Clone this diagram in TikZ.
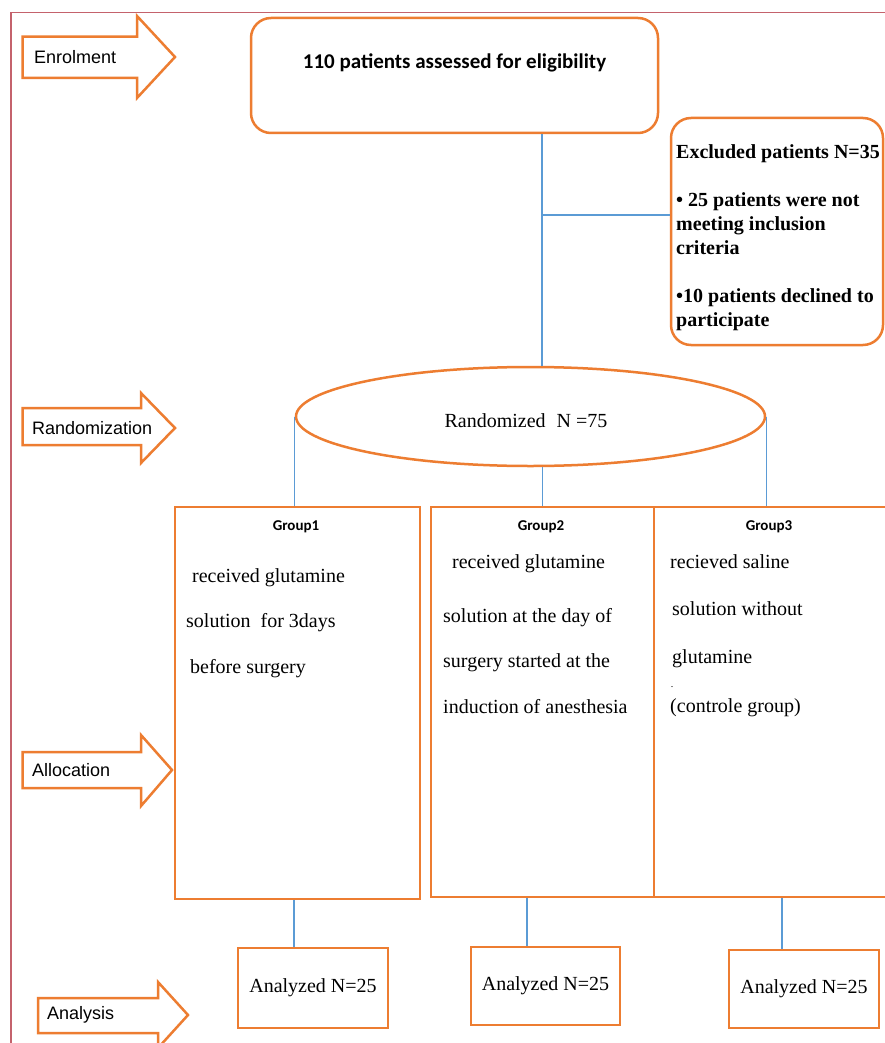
\documentclass[tikz,border=0pt]{standalone}
\usepackage{fontspec}
\setmainfont{Liberation Serif}
\newfontfamily\stagefont{Liberation Sans}
\newfontfamily\calfont{Carlito}
\usepackage{tikz}
\usetikzlibrary{shapes.geometric}
\definecolor{boxorange}{HTML}{ED7D31}
\definecolor{linkblue}{HTML}{5B9BD5}
\definecolor{framered}{RGB}{196,98,108}
\tikzset{
    plainbox/.style={draw=boxorange,line width=2.5pt,inner sep=0pt},
    roundbox/.style={plainbox,rounded corners=20pt},
    stagearrow/.style={draw=boxorange,line width=2.5pt,fill=white,line join=miter},
    stagelabel/.style={font=\stagefont\fontsize{18}{20}\selectfont,anchor=west,inner sep=0pt},
    link/.style={draw=linkblue,line width=1.3pt},
    bodytext/.style={font=\fontsize{20}{45.5}\selectfont,align=left,anchor=base west,inner sep=0pt},
    grouphead/.style={font=\calfont\bfseries\fontsize{15}{17}\selectfont,inner sep=0pt}
}

\begin{document}
\begin{tikzpicture}[x=1pt,y=-1pt]
            \useasboundingbox (0,0) rectangle (884,1043);
            \fill[white] (0,0) rectangle (884,1043);
            \draw[framered,line width=1.5pt] (11,1060) -- (11,12.5) -- (900,12.5);
            \draw[stagearrow] (22.7,36.7) -- (137,36.7) -- (137,16) -- (175,57) -- (137,98) -- (137,78) -- (22.7,78) -- cycle;
            \draw[stagearrow] (22.5,408) -- (141,408) -- (141,393) -- (175,428) -- (141,463) -- (141,445) -- (22.5,445) -- cycle;
            \draw[stagearrow] (22.5,752) -- (141,752) -- (141,735) -- (172,770) -- (141,806) -- (141,788) -- (22.5,788) -- cycle;
            \draw[stagearrow] (38,998) -- (158,998) -- (158,982) -- (188,1015) -- (158,1048) -- (158,1033) -- (38,1033) -- cycle;
            \node[stagelabel] (enrolment) at (34,57) {Enrolment};
            \node[stagelabel] (randomization) at (32,428) {Randomization};
            \node[stagelabel] (allocation) at (32,770) {Allocation};
            \node[stagelabel] (analysis) at (47,1015) {Analysis};
            \node[roundbox,minimum width=407pt,minimum height=115pt] (enrol) at (454.5,75.5) {};
            \node[font=\calfont\bfseries\fontsize{21}{23}\selectfont] (enroltext) at (454.5,63) {110 patients assessed for eligibility};
            \node[roundbox,minimum width=212pt,minimum height=227pt] (excl) at (777,231.5) {};
            \node[font=\bfseries\fontsize{20}{24}\selectfont,align=left,anchor=base west,inner sep=0pt] (excltext) at (676,326)
                {Excluded patients N=35\\[24pt] \textbullet\ 25 patients were not\\ meeting inclusion\\ criteria\\[24pt] \textbullet 10 patients declined to\\ participate};
            \node[ellipse,plainbox,minimum width=469pt,minimum height=99pt] (rand) at (530.5,416.5) {};
            \node[font=\fontsize{20}{22}\selectfont] (randtext) at (526,421) {Randomized\hspace{11pt}N =75};
            \node[plainbox,minimum width=245pt,minimum height=392pt] (g1) at (297.5,703) {};
            \node[plainbox,minimum width=223pt,minimum height=390pt] (g2) at (542.5,702) {};
            \node[plainbox,minimum width=234pt,minimum height=390pt] (g3) at (771,702) {};
            \node[grouphead] (g1head) at (296,527) {Group1};
            \node[grouphead] (g2head) at (541,527) {Group2};
            \node[grouphead] (g3head) at (769,527) {Group3};
            \node[bodytext] (g1text) at (186,673) {\hspace{6pt}received glutamine\\ solution\ \ for 3days\\ \hspace{4pt}before surgery};
            \node[bodytext] (g2text) at (443,713) {\hspace{9pt}received glutamine\\[8pt] solution at the day of\\ surgery started at the\\ induction of anesthesia};
            \node[bodytext,font=\fontsize{20}{47.5}\selectfont] (g3text) at (670,663) {recieved saline\\ \hspace{2pt}solution without\\ \hspace{2pt}glutamine};
            \node[font=\fontsize{10}{10}\selectfont,inner sep=0pt] (g3dot) at (672,687) {.};
            \node[bodytext] (g3note) at (670,712) {(controle group)};
            \node[plainbox,minimum width=150pt,minimum height=80pt,font=\fontsize{20}{22}\selectfont] (a1) at (313,988) {Analyzed N=25};
            \node[plainbox,minimum width=149pt,minimum height=78pt,font=\fontsize{20}{22}\selectfont] (a2) at (545.5,986) {Analyzed N=25};
            \node[plainbox,minimum width=150pt,minimum height=78pt,font=\fontsize{20}{22}\selectfont] (a3) at (804,989) {Analyzed N=25};
            \coordinate (trunk) at (542,0);
            \coordinate (branch) at (542,215);
            \draw[link] (enrol.south -| trunk) -- (rand.north -| trunk);
            \draw[link] (branch) -- (branch -| excl.west);
            \draw[link] (rand.west) -- (rand.west |- g1.north);
            \draw[link] (rand.south -| g2.north) -- (g2.north);
            \draw[link] (rand.east) -- (rand.east |- g3.north);
            \coordinate (drop1) at (294,0);
            \coordinate (drop2) at (527,0);
            \coordinate (drop3) at (782,0);
            \draw[link] (g1.south -| drop1) -- (a1.north -| drop1);
            \draw[link] (g2.south -| drop2) -- (a2.north -| drop2);
            \draw[link] (g3.south -| drop3) -- (a3.north -| drop3);
        \end{tikzpicture}
\end{document}
